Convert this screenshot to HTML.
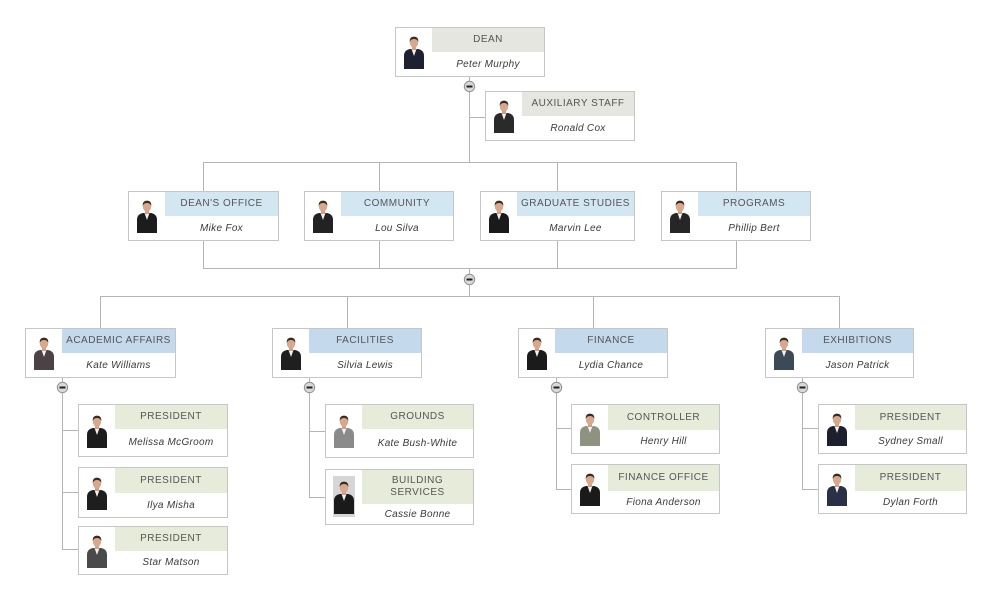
<!DOCTYPE html>
<html>
<head>
<meta charset="utf-8">
<style>
  html,body{margin:0;padding:0;background:#fff;}
  body{width:990px;height:600px;position:relative;overflow:hidden;font-family:"Liberation Sans",Arial,sans-serif;}
  .b{position:absolute;border:1px solid #c6c6c6;background:#fff;box-sizing:border-box;}
  .h{position:absolute;left:36px;right:0;top:0;height:24px;display:flex;align-items:center;justify-content:center;text-align:center;font-size:10px;letter-spacing:.5px;color:#555;line-height:12px;}
  .n{position:absolute;left:36px;right:0;top:24px;bottom:0;display:flex;align-items:center;justify-content:center;font-style:italic;font-size:10px;letter-spacing:.3px;color:#3a3a3a;}
  .g{background:#e4e6df;}
  .l2{background:#d3e7f3;}
  .l3{background:#c5d9ec;}
  .c{background:#e7ecda;}
  .p{position:absolute;left:7px;width:22px;height:34px;}
  svg.lines{position:absolute;left:0;top:0;}
</style>
</head>
<body>
<svg width="0" height="0" style="position:absolute">
  <defs>
    <symbol id="pp" viewBox="0 0 22 34">
      <path d="M1 34 L1 21 Q1 15 7 14 L15 14 Q21 15 21 21 L21 34 Z" fill="currentColor"/>
      <path d="M8.5 14 L11 21 L13.5 14 Z" fill="#f2f2f2"/>
      <rect x="9" y="10" width="4" height="5" fill="#d2a086"/>
      <ellipse cx="11" cy="7.5" rx="4.2" ry="5.2" fill="#d8a88c"/>
      <path d="M6.6 7 Q6.5 1.5 11 1.6 Q15.5 1.5 15.4 7 Q14 3.8 11 4 Q8 3.8 6.6 7 Z" fill="#3b2a1f"/>
    </symbol>
  </defs>
</svg>

<svg class="lines" width="990" height="600">
  <g stroke="#b4b4b4" stroke-width="1" fill="none" shape-rendering="crispEdges">
    <line x1="469.5" y1="76" x2="469.5" y2="162"/>
    <line x1="469" y1="117.5" x2="485" y2="117.5"/>
    <line x1="203" y1="162.5" x2="737" y2="162.5"/>
    <line x1="203.5" y1="162" x2="203.5" y2="191"/>
    <line x1="379.5" y1="162" x2="379.5" y2="191"/>
    <line x1="557.5" y1="162" x2="557.5" y2="191"/>
    <line x1="736.5" y1="162" x2="736.5" y2="191"/>
    <line x1="203.5" y1="240" x2="203.5" y2="268"/>
    <line x1="379.5" y1="240" x2="379.5" y2="268"/>
    <line x1="557.5" y1="240" x2="557.5" y2="268"/>
    <line x1="736.5" y1="240" x2="736.5" y2="268"/>
    <line x1="203" y1="268.5" x2="737" y2="268.5"/>
    <line x1="469.5" y1="268" x2="469.5" y2="296"/>
    <line x1="100" y1="296.5" x2="840" y2="296.5"/>
    <line x1="100.5" y1="296" x2="100.5" y2="328"/>
    <line x1="347.5" y1="296" x2="347.5" y2="328"/>
    <line x1="593.5" y1="296" x2="593.5" y2="328"/>
    <line x1="839.5" y1="296" x2="839.5" y2="328"/>
    <line x1="62.5" y1="377" x2="62.5" y2="550"/>
    <line x1="62" y1="430.5" x2="78" y2="430.5"/>
    <line x1="62" y1="492.5" x2="78" y2="492.5"/>
    <line x1="62" y1="549.5" x2="78" y2="549.5"/>
    <line x1="309.5" y1="377" x2="309.5" y2="498"/>
    <line x1="309" y1="431.5" x2="325" y2="431.5"/>
    <line x1="309" y1="497.5" x2="325" y2="497.5"/>
    <line x1="556.5" y1="377" x2="556.5" y2="490"/>
    <line x1="556" y1="428.5" x2="571" y2="428.5"/>
    <line x1="556" y1="489.5" x2="571" y2="489.5"/>
    <line x1="802.5" y1="377" x2="802.5" y2="490"/>
    <line x1="802" y1="428.5" x2="818" y2="428.5"/>
    <line x1="802" y1="489.5" x2="818" y2="489.5"/>
  </g>
  <g>
    <g transform="translate(469.5,86.5)"><circle r="5.2" fill="#d9d9d9" stroke="#8f8f8f" stroke-width="1"/><rect x="-3" y="-1" width="6" height="2" fill="#222"/></g>
    <g transform="translate(469.5,279.5)"><circle r="5.2" fill="#d9d9d9" stroke="#8f8f8f" stroke-width="1"/><rect x="-3" y="-1" width="6" height="2" fill="#222"/></g>
    <g transform="translate(62.5,387.5)"><circle r="5.2" fill="#d9d9d9" stroke="#8f8f8f" stroke-width="1"/><rect x="-3" y="-1" width="6" height="2" fill="#222"/></g>
    <g transform="translate(309.5,387.5)"><circle r="5.2" fill="#d9d9d9" stroke="#8f8f8f" stroke-width="1"/><rect x="-3" y="-1" width="6" height="2" fill="#222"/></g>
    <g transform="translate(556.5,387.5)"><circle r="5.2" fill="#d9d9d9" stroke="#8f8f8f" stroke-width="1"/><rect x="-3" y="-1" width="6" height="2" fill="#222"/></g>
    <g transform="translate(802.5,387.5)"><circle r="5.2" fill="#d9d9d9" stroke="#8f8f8f" stroke-width="1"/><rect x="-3" y="-1" width="6" height="2" fill="#222"/></g>
  </g>
</svg>

<div class="b" style="left:395px;top:27px;width:150px;height:50px;">
  <svg class="p" style="top:7px;color:#1e2230"><use href="#pp"/></svg>
  <div class="h g">DEAN</div><div class="n">Peter Murphy</div>
</div>
<div class="b" style="left:485px;top:91px;width:150px;height:50px;">
  <svg class="p" style="top:7px;color:#2a2a2a"><use href="#pp"/></svg>
  <div class="h g">AUXILIARY STAFF</div><div class="n">Ronald Cox</div>
</div>

<div class="b" style="left:128px;top:191px;width:151px;height:50px;">
  <svg class="p" style="top:7px;color:#1c1c1c"><use href="#pp"/></svg>
  <div class="h l2">DEAN'S OFFICE</div><div class="n">Mike Fox</div>
</div>
<div class="b" style="left:304px;top:191px;width:150px;height:50px;">
  <svg class="p" style="top:7px;color:#222"><use href="#pp"/></svg>
  <div class="h l2">COMMUNITY</div><div class="n">Lou Silva</div>
</div>
<div class="b" style="left:480px;top:191px;width:155px;height:50px;">
  <svg class="p" style="top:7px;color:#1a1a1a"><use href="#pp"/></svg>
  <div class="h l2">GRADUATE STUDIES</div><div class="n">Marvin Lee</div>
</div>
<div class="b" style="left:661px;top:191px;width:150px;height:50px;">
  <svg class="p" style="top:7px;color:#262626"><use href="#pp"/></svg>
  <div class="h l2">PROGRAMS</div><div class="n">Phillip Bert</div>
</div>

<div class="b" style="left:25px;top:328px;width:151px;height:50px;">
  <svg class="p" style="top:7px;color:#4a4244"><use href="#pp"/></svg>
  <div class="h l3">ACADEMIC AFFAIRS</div><div class="n">Kate Williams</div>
</div>
<div class="b" style="left:272px;top:328px;width:150px;height:50px;">
  <svg class="p" style="top:7px;color:#1f1f1f"><use href="#pp"/></svg>
  <div class="h l3">FACILITIES</div><div class="n">Silvia Lewis</div>
</div>
<div class="b" style="left:518px;top:328px;width:150px;height:50px;">
  <svg class="p" style="top:7px;color:#1b1b1b"><use href="#pp"/></svg>
  <div class="h l3">FINANCE</div><div class="n">Lydia Chance</div>
</div>
<div class="b" style="left:765px;top:328px;width:149px;height:50px;">
  <svg class="p" style="top:7px;color:#3c4a58"><use href="#pp"/></svg>
  <div class="h l3">EXHIBITIONS</div><div class="n">Jason Patrick</div>
</div>

<div class="b" style="left:78px;top:404px;width:150px;height:53px;">
  <svg class="p" style="top:9px;color:#1c1c1c"><use href="#pp"/></svg>
  <div class="h c">PRESIDENT</div><div class="n">Melissa McGroom</div>
</div>
<div class="b" style="left:78px;top:467px;width:150px;height:51px;">
  <svg class="p" style="top:8px;color:#1e1e1e"><use href="#pp"/></svg>
  <div class="h c" style="height:25px">PRESIDENT</div><div class="n" style="top:25px">Ilya Misha</div>
</div>
<div class="b" style="left:78px;top:526px;width:150px;height:49px;">
  <svg class="p" style="top:7px;color:#4a4a4a"><use href="#pp"/></svg>
  <div class="h c">PRESIDENT</div><div class="n">Star Matson</div>
</div>

<div class="b" style="left:325px;top:404px;width:149px;height:54px;">
  <svg class="p" style="top:9px;color:#8a8a8a"><use href="#pp"/></svg>
  <div class="h c">GROUNDS</div><div class="n">Kate Bush-White</div>
</div>
<div class="b" style="left:325px;top:469px;width:149px;height:56px;">
  <div style="position:absolute;left:7px;top:6px;width:22px;height:41px;background:#d6d6d6;"></div>
  <svg class="p" style="top:8px;height:38px;color:#1a1a1a"><use href="#pp"/></svg>
  <div class="h c" style="height:34px;">BUILDING<br>SERVICES</div><div class="n" style="top:34px">Cassie Bonne</div>
</div>

<div class="b" style="left:571px;top:404px;width:149px;height:50px;">
  <svg class="p" style="top:7px;color:#8d9281"><use href="#pp"/></svg>
  <div class="h c" style="height:25px">CONTROLLER</div><div class="n" style="top:25px">Henry Hill</div>
</div>
<div class="b" style="left:571px;top:464px;width:149px;height:50px;">
  <svg class="p" style="top:7px;color:#1a1a1a"><use href="#pp"/></svg>
  <div class="h c" style="height:26px">FINANCE OFFICE</div><div class="n" style="top:26px">Fiona Anderson</div>
</div>

<div class="b" style="left:818px;top:404px;width:149px;height:50px;">
  <svg class="p" style="top:7px;color:#1d1f2e"><use href="#pp"/></svg>
  <div class="h c" style="height:25px">PRESIDENT</div><div class="n" style="top:25px">Sydney Small</div>
</div>
<div class="b" style="left:818px;top:464px;width:149px;height:50px;">
  <svg class="p" style="top:7px;color:#2a3146"><use href="#pp"/></svg>
  <div class="h c" style="height:26px">PRESIDENT</div><div class="n" style="top:26px">Dylan Forth</div>
</div>

</body>
</html>
